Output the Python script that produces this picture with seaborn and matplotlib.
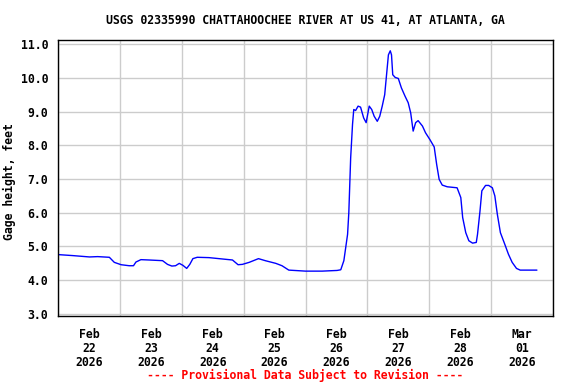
import matplotlib
matplotlib.use("Agg")
import matplotlib.pyplot as plt
import seaborn as sns
import pandas as pd
import numpy as np

# Days since Feb 22 2026 00:00
days = [0.00, 0.24, 0.51, 0.64, 0.83, 0.91, 1.02, 1.15, 1.22, 1.26, 1.34, 1.47, 1.69,
        1.77, 1.84, 1.90, 1.96, 2.02, 2.08, 2.13, 2.18, 2.25, 2.44, 2.71, 2.82, 2.91,
        2.98, 3.09, 3.24, 3.35, 3.52, 3.62, 3.73, 4.00, 4.27, 4.51, 4.57, 4.62, 4.65,
        4.68, 4.70, 4.73, 4.76, 4.78, 4.81, 4.85, 4.89, 4.94, 4.98, 5.03, 5.07, 5.11,
        5.16, 5.20, 5.24, 5.28, 5.31, 5.34, 5.37, 5.39, 5.41, 5.45, 5.50, 5.55, 5.61,
        5.66, 5.70, 5.74, 5.78, 5.82, 5.89, 5.94, 6.01, 6.08, 6.12, 6.16, 6.21, 6.29,
        6.45, 6.51, 6.54, 6.59, 6.64, 6.70, 6.76, 6.78, 6.82, 6.85, 6.91, 6.96, 7.02,
        7.06, 7.10, 7.15, 7.22, 7.28, 7.34, 7.41, 7.47, 7.74]
gage_ft = [4.76, 4.73, 4.69, 4.70, 4.68, 4.53, 4.46, 4.43, 4.43, 4.54, 4.61, 4.60, 4.58,
           4.47, 4.42, 4.43, 4.50, 4.44, 4.35, 4.47, 4.64, 4.68, 4.67, 4.62, 4.60, 4.46,
           4.47, 4.53, 4.64, 4.58, 4.50, 4.43, 4.30, 4.27, 4.27, 4.29, 4.31, 4.58, 4.97,
           5.36, 6.00, 7.63, 8.62, 9.06, 9.03, 9.16, 9.13, 8.81, 8.67, 9.16, 9.06, 8.86,
           8.71, 8.86, 9.16, 9.50, 10.09, 10.68, 10.80, 10.68, 10.09, 10.01, 9.98, 9.70, 9.45,
           9.26, 8.96, 8.42, 8.67, 8.73, 8.57, 8.37, 8.17, 7.95, 7.43, 6.99, 6.82, 6.77,
           6.74, 6.45, 5.86, 5.41, 5.17, 5.10, 5.12, 5.36, 6.05, 6.65, 6.81, 6.81, 6.74,
           6.50, 5.96, 5.41, 5.07, 4.77, 4.53, 4.35, 4.30, 4.30]

tick_labels = ["Feb\n22\n2026", "Feb\n23\n2026", "Feb\n24\n2026", "Feb\n25\n2026",
               "Feb\n26\n2026", "Feb\n27\n2026", "Feb\n28\n2026", "Mar\n01\n2026"]
y_ticks = [3.0, 4.0, 5.0, 6.0, 7.0, 8.0, 9.0, 10.0, 11.0]

title = "USGS 02335990 CHATTAHOOCHEE RIVER AT US 41, AT ATLANTA, GA"
ylabel = "Gage height, feet"
footer = "---- Provisional Data Subject to Revision ----"

FS = 8.3

sns.set_style("white")
plt.rcParams['font.family'] = ['DejaVu Sans Mono']
plt.rcParams['font.weight'] = 'bold'
plt.rcParams['text.color'] = 'black'
plt.rcParams['axes.labelcolor'] = 'black'
plt.rcParams['xtick.color'] = 'black'
plt.rcParams['ytick.color'] = 'black'

df = pd.DataFrame({"day": days, "gage": gage_ft})

fig = plt.figure(figsize=(5.76, 3.84), dpi=100)
ax = fig.add_axes([58/576, 1-316/384, (553-58)/576, (316-40)/384])

sns.lineplot(data=df, x="day", y="gage", ax=ax, color="#0000ff", linewidth=1.0)

ax.set_xlim(0, 8)
ax.set_ylim(2.94, 11.12)

ax.set_xticks(np.arange(0, 9, 1), minor=False)
ax.set_xticklabels([])
ax.set_xticks(np.arange(len(tick_labels)) + 0.5, minor=True)
ax.set_xticklabels(tick_labels, minor=True, fontsize=FS, fontweight='bold', linespacing=1.05,
                   color='black')
ax.tick_params(axis='x', which='both', length=0, pad=9)

ax.set_yticks(y_ticks)
ax.set_yticklabels([f"{v:.1f}" for v in y_ticks], fontsize=FS, fontweight='bold', color='black')
ax.tick_params(axis='y', length=0, pad=7)

ax.grid(True, which='major', color='#cccccc', linewidth=1.0)
ax.set_axisbelow(True)
for s in ax.spines.values():
    s.set_color('black')
    s.set_linewidth(1.0)

ax.set_xlabel("")
ax.set_ylabel(ylabel, fontsize=FS, fontweight='bold', color='black')
ax.yaxis.set_label_coords((16-58)/495, (316-182)/276)

fig.text(305/576, 1-20/384, title, ha='center', va='center', fontsize=FS, fontweight='bold',
         color='black')
fig.text(305/576, 1-375/384, footer, ha='center', va='center', fontsize=FS,
         fontweight='bold', color='red')

fig.savefig("out.png", dpi=100)
